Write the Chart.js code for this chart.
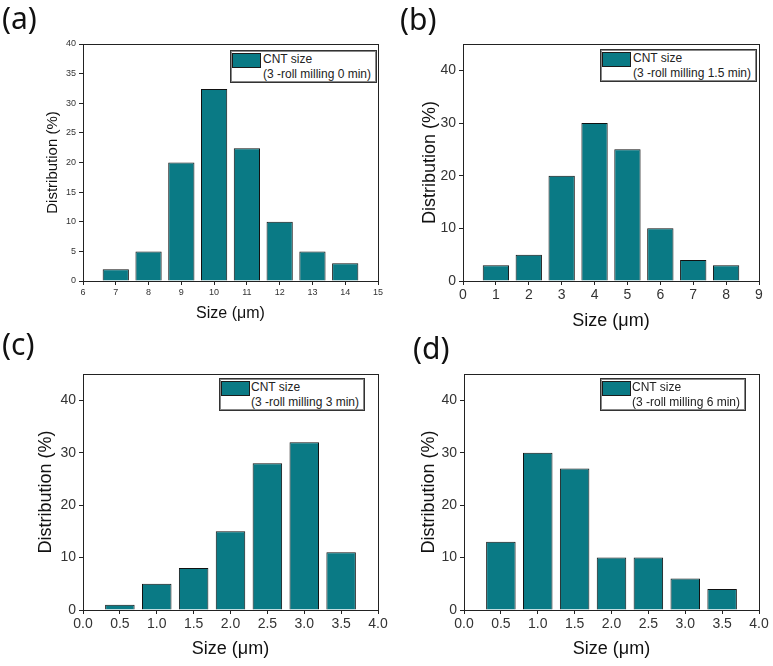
<!DOCTYPE html>
<html>
<head>
<meta charset="utf-8">
<script src="https://cdn.jsdelivr.net/npm/chart.js@4"></script>
<style>
  body { margin: 0; background: #fff; }
  #wrap { position: relative; width: 773px; height: 666px; overflow: hidden; background: #fff; }
  canvas { position: absolute; }
  .lbl { position: absolute; font-family: "Noto Sans", sans-serif; font-size: 30px; color: #111; line-height: 1; }
  .legend { position: absolute; border: 1px solid #333; box-shadow: inset 0 0 0 1px #888; background: #fff;
            font-family: "Liberation Sans", Arial, sans-serif; color: #222; }
  .legend .sw { position: absolute; left: 1px; top: 2px; width: 27px; height: 13px; background: #0a7a85; border: 1px solid #1b1b1b; }
  .legend .t { position: absolute; white-space: nowrap; line-height: 1; }
</style>
</head>
<body>
<div id="wrap">
  <canvas id="chartA" width="390" height="340" style="left:0;top:0"></canvas>
  <canvas id="chartB" width="383" height="340" style="left:390px;top:0"></canvas>
  <canvas id="chartC" width="390" height="346" style="left:0;top:320px"></canvas>
  <canvas id="chartD" width="383" height="346" style="left:390px;top:320px"></canvas>

  <div class="lbl" style="left:2px;top:3px">(a)</div>
  <div class="lbl" style="left:400px;top:4px">(b)</div>
  <div class="lbl" style="left:2px;top:329px">(c)</div>
  <div class="lbl" style="left:413px;top:333px">(d)</div>

  <div class="legend" style="left:230px;top:50px;width:145px;height:31px;font-size:12px">
    <div class="sw"></div>
    <div class="t" style="left:32px;top:2px">CNT size</div>
    <div class="t" style="left:32px;top:17px">(3 -roll milling 0 min)</div>
  </div>
  <div class="legend" style="left:600px;top:49px;width:155px;height:31px;font-size:12px">
    <div class="sw"></div>
    <div class="t" style="left:32px;top:2px">CNT size</div>
    <div class="t" style="left:32px;top:17px">(3 -roll milling 1.5 min)</div>
  </div>
  <div class="legend" style="left:219px;top:378px;width:144px;height:31px;font-size:12px">
    <div class="sw"></div>
    <div class="t" style="left:31px;top:2px">CNT size</div>
    <div class="t" style="left:31px;top:17px">(3 -roll milling 3 min)</div>
  </div>
  <div class="legend" style="left:600px;top:378px;width:144px;height:31px;font-size:12px">
    <div class="sw"></div>
    <div class="t" style="left:31px;top:2px">CNT size</div>
    <div class="t" style="left:31px;top:17px">(3 -roll milling 6 min)</div>
  </div>
</div>

<script>
// Size bins (µm) and distribution (%) for each milling time
const sizesA = [7, 8, 9, 10, 11, 12, 13, 14];
const distA = [2, 5, 20, 32.4, 22.4, 10, 5, 3];

const sizesB = [1, 2, 3, 4, 5, 6, 7, 8];
const distB = [3, 5, 20, 30, 25, 10, 4, 3];

const sizesC = [0.5, 1.0, 1.5, 2.0, 2.5, 3.0, 3.5];
const distC = [1, 5, 8, 15, 28, 32, 11];

const sizesD = [0.5, 1.0, 1.5, 2.0, 2.5, 3.0, 3.5];
const distD = [13, 30, 27, 10, 10, 6, 4];

const BAR = '#0a7a85';
const AXIS = '#222';
const FONT = '"Liberation Sans", Arial, sans-serif';

// frame on top/right of the plot area
const framePlugin = {
    id: 'frame',
    afterDraw(chart) {
        const a = chart.chartArea;
        const ctx = chart.ctx;
        ctx.save();
        ctx.strokeStyle = AXIS;
        ctx.lineWidth = 1;
        ctx.strokeRect(Math.round(a.left) + 0.5, Math.round(a.top) + 0.5, Math.round(a.right - a.left), Math.round(a.bottom - a.top));
        ctx.restore();
    }
};

function makePanel(id, xs, ys, o) {
    const ctx = document.getElementById(id).getContext('2d');
    new Chart(ctx, {
        type: 'bar',
        data: {
            datasets: [{
                label: 'CNT size',
                data: xs.map((x, i) => ({ x: x, y: ys[i] })),
                backgroundColor: BAR,
                borderColor: '#111',
                borderWidth: 1,
                inflateAmount: 0,
                barPercentage: 0.8,
                categoryPercentage: 1
            }]
        },
        plugins: [framePlugin],
        options: {
            responsive: false,
            animation: false,
            devicePixelRatio: 1,
            layout: { padding: { top: o.top, right: o.right, left: 0, bottom: 0 } },
            plugins: { legend: { display: false }, tooltip: { enabled: false } },
            scales: {
                x: {
                    type: 'linear',
                    min: o.xMin, max: o.xMax,
                    offset: false,
                    grid: { drawOnChartArea: false, offset: false, tickLength: 4, color: AXIS },
                    border: { color: AXIS },
                    ticks: {
                        stepSize: o.xStep, includeBounds: false, padding: 2, color: '#333', maxRotation: 0,
                        font: { family: FONT, size: o.tickSize },
                        callback: v => o.xDec ? v.toFixed(1) : v
                    },
                    title: { display: true, text: 'Size (μm)', color: '#111', font: { family: FONT, size: o.xTitleSize }, padding: { top: 0, bottom: o.xTitlePad } },
                    afterFit: s => { s.height = o.xHeight; }
                },
                y: {
                    min: 0, max: o.yMax,
                    grid: { drawOnChartArea: false, tickLength: 4, color: AXIS },
                    border: { color: AXIS },
                    ticks: { stepSize: o.yStep, includeBounds: false, padding: 3, color: '#333', font: { family: FONT, size: o.tickSize } },
                    title: { display: true, text: 'Distribution (%)', color: '#111', font: { family: FONT, size: o.yTitleSize }, padding: { top: o.yTitlePad, bottom: 0 } },
                    afterFit: s => { s.width = o.yWidth; }
                }
            }
        }
    });
}

makePanel('chartA', sizesA, distA, {
    top: 44, right: 12, yWidth: 83, xHeight: 59,
    xMin: 6, xMax: 15, xStep: 1, yMax: 40, yStep: 5,
    tickSize: 9, xTitleSize: 16, yTitleSize: 15, xTitlePad: 17, yTitlePad: 44
});
makePanel('chartB', sizesB, distB, {
    top: 44, right: 14, yWidth: 73, xHeight: 59,
    xMin: 0, xMax: 9, xStep: 1, yMax: 45, yStep: 10,
    tickSize: 14, xTitleSize: 18, yTitleSize: 18, xTitlePad: 8, yTitlePad: 29
});
makePanel('chartC', sizesC, distC, {
    top: 54, right: 12, yWidth: 83, xHeight: 56,
    xMin: 0, xMax: 4, xStep: 0.5, xDec: true, yMax: 45, yStep: 10,
    tickSize: 14, xTitleSize: 18, yTitleSize: 18, xTitlePad: 6, yTitlePad: 35
});
makePanel('chartD', sizesD, distD, {
    top: 54, right: 14, yWidth: 74, xHeight: 56,
    xMin: 0, xMax: 4, xStep: 0.5, xDec: true, yMax: 45, yStep: 10,
    tickSize: 14, xTitleSize: 18, yTitleSize: 18, xTitlePad: 6, yTitlePad: 28
});
</script>
</body>
</html>
